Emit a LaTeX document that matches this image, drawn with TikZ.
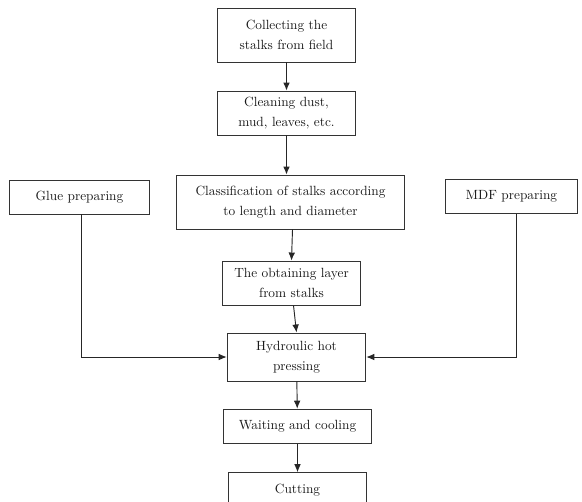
\documentclass[tikz,border=0pt]{standalone}
\usepackage{amsmath}
\usepackage{amssymb}
\usepackage{tikz}
\usetikzlibrary{arrows.meta}

\begin{document}
\begin{tikzpicture}[x=0.75pt,y=-0.75pt]
\tikzstyle{every node}=[draw=black!80,shape=rectangle,align=center,line width=0.7pt,inner sep=1pt,font={\fontsize{10}{15}\selectfont},text=black!90];
\tikzstyle{flow}=[draw=black!85,line width=0.7pt,-{Latex[length=6pt,width=5pt]}];
\useasboundingbox (0,0) rectangle (582,501);
\node (collect) at (286.5,35) [minimum width=104pt,minimum height=40.5pt] {Collecting the\\stalks from field};
\node (clean) at (286.5,113) [minimum width=104pt,minimum height=33pt] {Cleaning dust,\\mud, leaves, etc.};
\node (classify) at (290.5,202) [minimum width=171.5pt,minimum height=40.5pt] {Classification of stalks according\\to length and diameter};
\node (glue) at (79.5,197) [minimum width=105.5pt,minimum height=25.5pt] {Glue preparing};
\node (mdf) at (511.5,196.5) [minimum width=99.5pt,minimum height=26pt] {MDF preparing};
\node (layer) at (291.5,283) [minimum width=104pt,minimum height=33pt] {The obtaining layer\\from stalks};
\node (press) at (296.5,357) [minimum width=104pt,minimum height=36pt] {Hydroulic hot\\pressing};
\node (cool) at (297.5,426.5) [minimum width=111.5pt,minimum height=26pt] {Waiting and cooling};
\node (cut) at (297.5,490) [minimum width=104pt,minimum height=26pt] {Cutting};
\draw[flow] (collect) -- (clean);
\draw[flow] (clean.south) -- (clean.south |- classify.north);
\draw[flow] (classify.south) ++(2,0) -- (layer.north);
\draw[flow] (layer.south) ++(2,0) -- (press.north);
\draw[flow] (press) -- (cool);
\draw[flow] (cool) -- (cut);
\draw[flow] (glue.south) ++(1.5,0) |- (press.west);
\draw[flow] (mdf.south) ++(4.5,0) |- (press.east);
\end{tikzpicture}
\end{document}
